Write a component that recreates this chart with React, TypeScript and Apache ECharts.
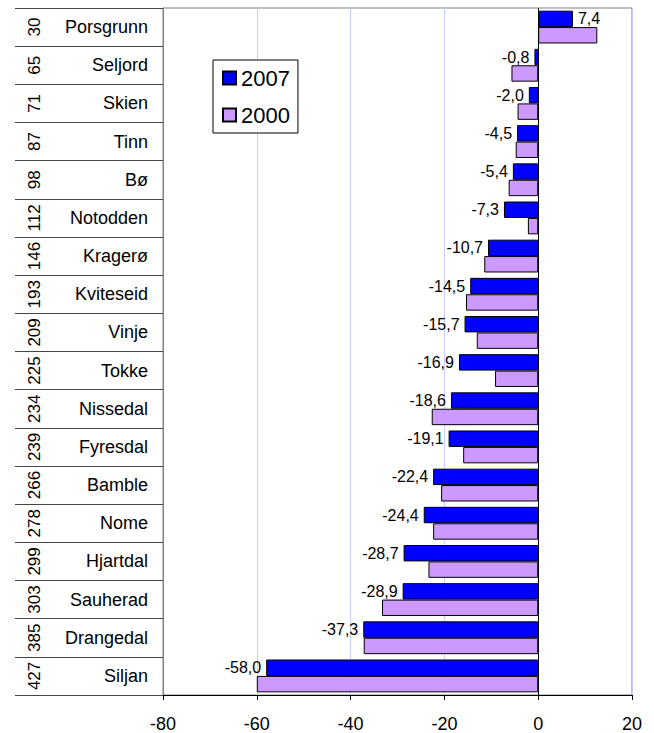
import React, { useEffect, useRef } from 'react';
import * as echarts from 'echarts';

const municipalities = ['Porsgrunn', 'Seljord', 'Skien', 'Tinn', 'Bø', 'Notodden', 'Kragerø', 'Kviteseid', 'Vinje', 'Tokke', 'Nissedal', 'Fyresdal', 'Bamble', 'Nome', 'Hjartdal', 'Sauherad', 'Drangedal', 'Siljan'];
const ranks = ['30', '65', '71', '87', '98', '112', '146', '193', '209', '225', '234', '239', '266', '278', '299', '303', '385', '427'];
const values2007 = [7.4, -0.8, -2.0, -4.5, -5.4, -7.3, -10.7, -14.5, -15.7, -16.9, -18.6, -19.1, -22.4, -24.4, -28.7, -28.9, -37.3, -58.0];
const values2000 = [12.6, -5.7, -4.4, -4.8, -6.3, -2.2, -11.5, -15.4, -13.1, -9.2, -22.7, -16.0, -20.7, -22.4, -23.4, -33.3, -37.2, -60.0];
const seriesNames = ['2007', '2000'];
const xMin = -80;
const xMax = 20;
const xStep = 20;

const FONT = "'Liberation Sans', Arial, sans-serif";

export default function App() {
  const ref = useRef<HTMLDivElement>(null);
  useEffect(() => {
    if (!ref.current) return;
    const chart = echarts.init(ref.current, undefined, { renderer: 'svg' });
    const fmt = (v: number) => v.toFixed(1).replace('.', ',');
    chart.setOption({
      animation: false,
      textStyle: { fontFamily: FONT },
      grid: { left: 163, right: 22, top: 8, bottom: 36, show: true, borderColor: '#808080', borderWidth: 1 },
      legend: {
        data: seriesNames,
        orient: 'vertical',
        left: 213,
        top: 60,
        padding: [6, 8, 6, 9],
        itemGap: 13,
        itemWidth: 13,
        itemHeight: 13,
        icon: 'rect',
        borderColor: '#000',
        borderWidth: 1,
        backgroundColor: '#fff',
        textStyle: { fontSize: 22, lineHeight: 24, color: '#000', fontFamily: FONT },
      },
      xAxis: {
        type: 'value',
        min: xMin,
        max: xMax,
        interval: xStep,
        axisLine: { show: true, lineStyle: { color: '#000' } },
        axisTick: { show: true, length: 5, lineStyle: { color: '#000' } },
        axisLabel: { fontSize: 18, color: '#000', margin: 20, fontFamily: FONT },
        splitLine: { show: true, lineStyle: { color: '#ccccff' } },
      },
      yAxis: [
        {
          type: 'category',
          data: municipalities,
          inverse: true,
          position: 'left',
          axisLine: { show: true, onZero: false, lineStyle: { color: '#808080' } },
          axisTick: { show: true, length: 148, interval: 0, lineStyle: { color: '#444' } },
          axisLabel: { fontSize: 18, color: '#000', margin: 15, interval: 0, fontFamily: FONT },
          splitLine: { show: false },
        },
        {
          type: 'category',
          data: ranks,
          inverse: true,
          position: 'left',
          offset: 113,
          axisLine: { show: false, onZero: false },
          axisTick: { show: false },
          axisLabel: { fontSize: 17, color: '#000', margin: 7, rotate: 90, interval: 0, fontFamily: FONT },
          splitLine: { show: false },
        },
      ],
      series: [
        {
          name: seriesNames[0],
          type: 'bar',
          yAxisIndex: 0,
          barGap: '0%',
          barCategoryGap: '14%',
          itemStyle: { color: '#0000ff', borderColor: '#000', borderWidth: 1 },
          data: values2007.map((v) => ({
            value: v,
            label: { position: v >= 0 ? 'right' : 'left' },
          })),
          label: {
            show: true,
            distance: 5,
            fontSize: 16,
            color: '#000',
            fontFamily: FONT,
            formatter: (p: any) => fmt(p.value),
          },
          markLine: {
            silent: true,
            symbol: ['none', 'none'],
            label: { show: false },
            lineStyle: { color: '#000', type: 'solid', width: 1 },
            data: [{ xAxis: 0 }],
          },
        },
        {
          name: seriesNames[1],
          type: 'bar',
          yAxisIndex: 0,
          barGap: '0%',
          barCategoryGap: '14%',
          itemStyle: { color: '#cc99ff', borderColor: '#000', borderWidth: 1 },
          data: values2000,
        },
      ],
    });
    return () => chart.dispose();
  }, []);
  return <div ref={ref} style={{ position: 'absolute', left: 0, top: 0, width: 654, height: 733 }} />;
}
